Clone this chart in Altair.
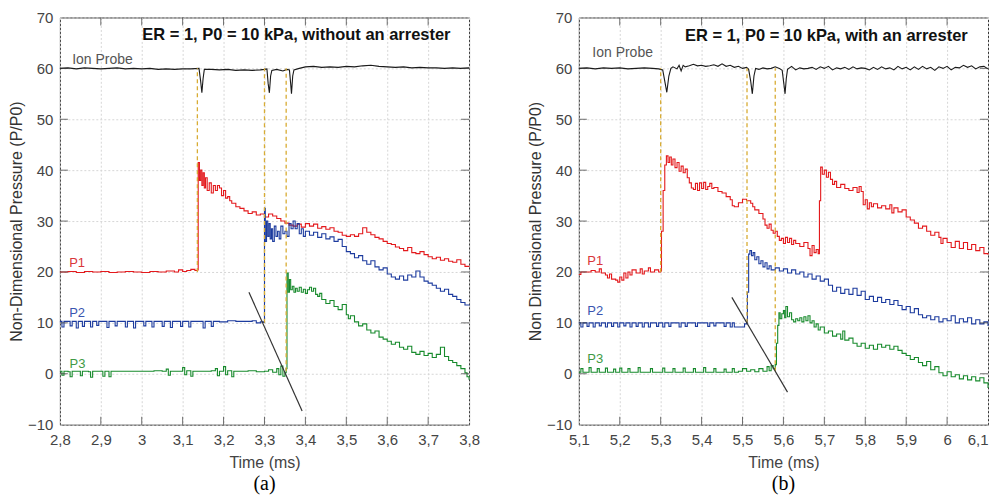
import altair as alt
import pandas as pd

# ---------------- data: panel (a) without arrester ----------------
ion_a = [(2.800,60.0),(2.820,60.1),(2.840,59.9),(2.860,60.1),(2.880,60.0),(2.900,59.9),(2.920,60.0),(2.940,60.1),(2.960,59.9),(2.980,60.0),(3.000,59.9),(3.020,60.0),(3.040,59.8),(3.060,59.9),(3.080,59.8),(3.100,59.9),(3.120,59.9),(3.140,60.0),(3.144,57.5),(3.147,55.2),(3.150,58.0),(3.153,59.8),(3.170,59.8),(3.190,59.7),(3.210,59.8),(3.230,59.6),(3.250,59.7),(3.270,59.6),(3.290,59.7),(3.300,59.8),(3.306,59.9),(3.309,57.0),(3.312,55.2),(3.315,58.5),(3.318,59.6),(3.330,59.8),(3.345,59.5),(3.355,59.8),(3.361,59.7),(3.364,57.0),(3.366,55.0),(3.369,58.5),(3.372,59.7),(3.385,60.0),(3.400,60.3),(3.420,60.4),(3.440,60.2),(3.460,60.3),(3.480,60.2),(3.500,60.4),(3.520,60.3),(3.540,60.5),(3.560,60.6),(3.580,60.4),(3.600,60.3),(3.620,60.2),(3.640,60.3),(3.660,60.1),(3.680,60.2),(3.700,60.1),(3.720,60.1),(3.740,60.0),(3.760,60.1),(3.780,60.0),(3.800,60.1)]

p1_a = [(2.800,20.0),(2.820,20.1),(2.840,19.9),(2.860,20.1),(2.880,20.0),(2.900,20.1),(2.920,19.9),(2.940,20.0),(2.960,20.1),(2.980,20.0),(3.000,19.9),(3.020,20.1),(3.040,20.0),(3.060,20.2),(3.080,20.0),(3.090,20.4),(3.100,20.1),(3.110,20.3),(3.120,20.5),(3.130,20.3),(3.136,20.4),(3.138,41.5),(3.141,38.0),(3.144,40.0),(3.147,37.0),(3.150,39.5),(3.153,36.5),(3.156,38.5),(3.160,36.0),(3.165,37.5),(3.170,35.5),(3.175,37.0),(3.180,36.0),(3.185,37.0),(3.190,36.5),(3.195,35.0),(3.200,36.0),(3.205,34.5),(3.210,34.8),(3.215,34.0),(3.220,33.5),(3.230,32.8),(3.240,32.5),(3.250,32.0),(3.260,31.5),(3.270,31.8),(3.280,31.2),(3.290,31.4),(3.300,30.8),(3.310,31.4),(3.320,31.0),(3.330,30.5),(3.340,30.0),(3.350,29.6),(3.360,29.2),(3.370,29.0),(3.380,29.4),(3.390,28.8),(3.400,29.5),(3.410,29.0),(3.420,29.4),(3.430,28.6),(3.440,28.9),(3.450,28.4),(3.460,28.7),(3.470,28.0),(3.480,27.8),(3.490,27.2),(3.500,27.0),(3.510,27.3),(3.520,27.0),(3.530,27.5),(3.540,28.7),(3.550,27.8),(3.560,27.3),(3.570,26.8),(3.580,26.5),(3.590,26.0),(3.600,25.6),(3.610,25.4),(3.620,24.9),(3.630,24.6),(3.640,24.2),(3.650,24.8),(3.660,23.8),(3.670,23.6),(3.680,24.0),(3.690,23.4),(3.700,23.0),(3.710,22.6),(3.720,22.9),(3.730,22.3),(3.740,22.6),(3.750,22.1),(3.760,21.9),(3.770,22.4),(3.780,21.5),(3.790,21.1),(3.800,21.0)]

p2_a = [(2.800,10.3),(2.805,9.2),(2.810,10.3),(2.820,10.3),(2.825,9.4),(2.830,10.3),(2.840,9.0),(2.845,10.3),(2.855,9.3),(2.860,10.3),(2.870,10.3),(2.875,9.2),(2.880,10.3),(2.890,9.5),(2.895,10.3),(2.910,10.3),(2.915,9.1),(2.920,10.3),(2.935,9.4),(2.940,10.3),(2.955,10.3),(2.960,9.2),(2.965,10.3),(2.980,9.0),(2.985,10.3),(3.000,10.3),(3.005,9.4),(3.010,10.3),(3.025,9.2),(3.030,10.3),(3.045,10.3),(3.050,9.3),(3.055,10.3),(3.070,9.1),(3.075,10.3),(3.090,10.3),(3.095,9.3),(3.100,10.3),(3.115,9.2),(3.120,10.3),(3.140,10.3),(3.150,9.0),(3.155,10.3),(3.170,9.3),(3.175,10.3),(3.190,10.2),(3.210,10.4),(3.230,10.3),(3.250,10.3),(3.270,10.4),(3.280,10.0),(3.290,10.2),(3.298,10.1),(3.300,32.5),(3.302,26.0),(3.305,30.0),(3.308,27.0),(3.311,29.5),(3.314,26.5),(3.317,28.5),(3.320,26.0),(3.324,29.0),(3.328,27.0),(3.332,28.0),(3.336,26.5),(3.340,29.0),(3.345,27.5),(3.350,28.0),(3.355,27.0),(3.360,29.5),(3.365,28.5),(3.370,30.0),(3.375,28.5),(3.380,29.5),(3.385,27.5),(3.390,28.5),(3.395,27.0),(3.400,28.0),(3.410,27.2),(3.420,27.8),(3.430,26.8),(3.440,27.5),(3.450,26.5),(3.460,26.9),(3.470,26.0),(3.480,26.4),(3.490,25.0),(3.500,24.0),(3.510,23.6),(3.520,22.8),(3.530,23.2),(3.540,22.2),(3.550,21.5),(3.560,22.2),(3.570,21.0),(3.580,20.4),(3.590,20.8),(3.600,19.6),(3.610,19.0),(3.620,18.6),(3.630,19.2),(3.640,18.4),(3.650,19.4),(3.660,19.0),(3.670,20.2),(3.680,19.0),(3.690,18.2),(3.700,17.8),(3.710,17.4),(3.720,16.8),(3.730,16.2),(3.740,16.6),(3.750,15.6),(3.760,15.2),(3.770,14.6),(3.780,14.0),(3.790,13.5),(3.800,13.4)]

p3_a = [(2.800,0.5),(2.805,-0.3),(2.810,0.5),(2.820,0.4),(2.825,-0.6),(2.830,0.5),(2.845,0.5),(2.850,-0.4),(2.855,0.5),(2.870,0.4),(2.875,-0.7),(2.880,0.5),(2.900,0.5),(2.905,-0.5),(2.910,0.5),(2.920,-0.6),(2.925,0.5),(2.950,0.5),(2.970,0.5),(2.990,0.5),(3.010,0.5),(3.030,0.6),(3.050,0.5),(3.060,0.9),(3.065,-0.3),(3.070,0.5),(3.090,0.5),(3.100,1.2),(3.105,-0.2),(3.110,0.6),(3.120,-0.5),(3.125,0.5),(3.150,0.5),(3.170,0.6),(3.180,1.0),(3.185,-0.4),(3.190,0.5),(3.200,1.4),(3.205,-0.2),(3.210,0.6),(3.220,-0.6),(3.225,0.5),(3.240,0.5),(3.260,0.6),(3.280,0.4),(3.300,0.5),(3.310,0.8),(3.320,0.3),(3.330,1.0),(3.335,-0.2),(3.340,1.5),(3.345,-0.5),(3.350,0.2),(3.353,1.0),(3.355,19.8),(3.358,16.0),(3.361,18.5),(3.364,16.5),(3.368,17.2),(3.372,16.0),(3.376,16.8),(3.380,16.2),(3.385,17.0),(3.390,16.0),(3.395,16.6),(3.400,15.8),(3.405,16.5),(3.410,17.0),(3.415,16.2),(3.420,16.8),(3.425,15.6),(3.430,15.2),(3.435,15.8),(3.440,14.6),(3.450,13.8),(3.460,14.4),(3.470,13.2),(3.480,12.6),(3.490,13.6),(3.500,11.6),(3.505,10.8),(3.510,11.4),(3.520,10.2),(3.530,9.4),(3.540,9.8),(3.550,8.6),(3.560,8.0),(3.570,8.4),(3.580,7.2),(3.590,6.8),(3.600,6.4),(3.610,5.8),(3.620,6.2),(3.630,5.2),(3.640,4.8),(3.650,5.4),(3.660,4.2),(3.670,3.8),(3.680,4.4),(3.690,3.6),(3.700,4.0),(3.710,3.2),(3.720,3.8),(3.730,5.2),(3.740,3.4),(3.750,2.6),(3.760,2.2),(3.770,1.6),(3.780,1.0),(3.790,0.2),(3.795,-0.6),(3.800,-1.2)]

diag_a = [(3.262, 16.0), (3.392, -7.3)]
dash_a = [(3.136, 20.0, 60.0), (3.300, 10.0, 60.0), (3.353, 0.5, 60.0)]
labels_a = [(2.904, 61.6, "Ion Probe"), (2.842, 21.8, "P1"), (2.842, 11.9, "P2"), (2.843, 1.9, "P3")]
head_a = (3.378, 66.6, "ER = 1, P0 = 10 kPa, without an arrester")

# ---------------- data: panel (b) with arrester ----------------
ion_b = [(5.100,60.0),(5.120,60.1),(5.140,59.9),(5.160,60.1),(5.180,60.0),(5.200,60.1),(5.220,59.9),(5.240,60.0),(5.260,60.1),(5.280,60.0),(5.295,59.9),(5.305,59.7),(5.310,57.5),(5.315,55.3),(5.320,58.5),(5.325,60.0),(5.330,60.3),(5.340,59.9),(5.345,60.6),(5.350,59.5),(5.355,60.6),(5.360,60.3),(5.370,60.5),(5.380,60.8),(5.390,60.5),(5.400,60.6),(5.410,60.4),(5.420,60.5),(5.430,60.7),(5.440,60.4),(5.450,60.9),(5.460,60.4),(5.470,60.6),(5.480,60.2),(5.490,60.4),(5.500,60.0),(5.510,60.2),(5.515,59.8),(5.520,57.5),(5.524,55.0),(5.528,58.5),(5.532,60.0),(5.540,59.8),(5.550,60.1),(5.560,59.9),(5.570,60.0),(5.580,60.3),(5.590,60.0),(5.597,59.6),(5.601,57.0),(5.604,55.0),(5.607,58.0),(5.610,59.8),(5.620,60.4),(5.630,59.7),(5.640,60.1),(5.650,59.9),(5.660,60.0),(5.670,60.2),(5.680,59.8),(5.690,60.3),(5.700,60.0),(5.710,60.4),(5.720,59.7),(5.730,60.1),(5.740,59.9),(5.750,60.2),(5.760,59.8),(5.770,60.3),(5.780,59.9),(5.790,60.1),(5.800,60.0),(5.810,59.7),(5.820,60.2),(5.830,59.8),(5.840,60.3),(5.850,59.9),(5.860,60.1),(5.870,59.7),(5.880,60.4),(5.890,59.9),(5.900,60.2),(5.910,59.7),(5.920,60.3),(5.930,59.8),(5.940,60.4),(5.950,59.9),(5.960,60.2),(5.970,59.6),(5.980,60.3),(5.990,60.0),(6.000,60.4),(6.010,59.7),(6.020,60.2),(6.030,60.1),(6.040,60.6),(6.050,60.2),(6.060,60.5),(6.070,59.9),(6.080,60.3),(6.090,60.4),(6.100,59.9)]

p1_b = [(5.100,19.5),(5.105,20.0),(5.120,20.0),(5.130,20.3),(5.140,20.0),(5.150,20.6),(5.155,19.8),(5.165,19.4),(5.170,18.8),(5.175,19.6),(5.180,18.6),(5.190,18.4),(5.195,18.0),(5.200,19.0),(5.205,18.4),(5.210,19.8),(5.215,18.8),(5.220,20.0),(5.225,19.4),(5.230,20.4),(5.240,19.8),(5.250,20.6),(5.255,19.6),(5.260,20.2),(5.270,20.8),(5.275,20.0),(5.285,20.4),(5.295,20.0),(5.300,20.2),(5.302,28.0),(5.306,36.0),(5.310,41.0),(5.314,42.8),(5.318,41.5),(5.322,42.6),(5.326,41.0),(5.330,42.2),(5.335,40.5),(5.340,41.5),(5.345,39.8),(5.350,40.8),(5.355,39.5),(5.360,40.2),(5.365,38.5),(5.370,37.5),(5.375,36.5),(5.380,36.2),(5.385,37.4),(5.390,36.0),(5.395,37.5),(5.400,36.4),(5.405,37.6),(5.410,36.2),(5.415,36.8),(5.420,37.4),(5.425,36.4),(5.430,36.6),(5.440,35.8),(5.450,35.5),(5.460,34.8),(5.470,34.2),(5.475,33.0),(5.480,32.8),(5.490,33.6),(5.500,34.3),(5.510,34.0),(5.520,33.5),(5.525,32.8),(5.530,32.2),(5.540,31.5),(5.550,30.4),(5.555,29.2),(5.560,28.6),(5.565,29.4),(5.570,28.2),(5.575,27.6),(5.580,28.0),(5.585,27.0),(5.590,26.2),(5.595,26.6),(5.600,25.6),(5.605,26.8),(5.610,25.8),(5.615,26.6),(5.620,25.4),(5.625,26.2),(5.630,25.6),(5.640,25.0),(5.650,25.8),(5.660,24.6),(5.665,23.2),(5.670,25.2),(5.675,23.8),(5.680,24.4),(5.685,23.6),(5.688,34.0),(5.691,40.6),(5.695,39.2),(5.700,40.0),(5.705,38.6),(5.710,39.6),(5.715,38.2),(5.720,37.2),(5.725,37.8),(5.730,36.6),(5.740,37.2),(5.750,36.4),(5.760,36.0),(5.770,36.6),(5.780,35.6),(5.785,36.8),(5.790,35.8),(5.795,33.2),(5.800,34.2),(5.805,32.4),(5.810,33.6),(5.815,32.8),(5.820,33.4),(5.830,32.6),(5.840,33.0),(5.850,32.4),(5.860,33.2),(5.865,31.6),(5.870,32.6),(5.880,31.8),(5.890,32.2),(5.900,30.8),(5.910,30.2),(5.920,29.6),(5.930,28.6),(5.940,29.0),(5.950,28.0),(5.960,27.2),(5.970,27.8),(5.980,26.8),(5.985,25.6),(5.990,26.6),(6.000,25.8),(6.010,24.8),(6.020,26.0),(6.030,24.6),(6.040,25.8),(6.050,24.4),(6.060,25.4),(6.070,24.2),(6.080,24.8),(6.090,23.6),(6.100,23.4)]

p2_b = [(5.100,10.0),(5.105,9.2),(5.110,10.0),(5.120,9.3),(5.125,10.0),(5.135,9.2),(5.140,10.0),(5.150,9.4),(5.155,10.0),(5.165,9.2),(5.170,10.0),(5.180,9.3),(5.185,10.0),(5.195,9.2),(5.200,10.0),(5.210,9.4),(5.215,10.0),(5.225,9.2),(5.230,10.0),(5.240,9.3),(5.245,10.0),(5.255,9.2),(5.260,10.0),(5.270,9.2),(5.275,10.0),(5.290,9.3),(5.295,10.0),(5.305,9.2),(5.310,10.0),(5.320,9.3),(5.325,10.0),(5.340,10.0),(5.345,9.2),(5.350,10.0),(5.360,9.3),(5.365,10.0),(5.380,10.0),(5.385,9.3),(5.390,10.0),(5.410,10.0),(5.415,9.3),(5.420,10.0),(5.430,9.4),(5.435,10.0),(5.450,10.0),(5.455,9.3),(5.460,10.0),(5.470,9.2),(5.475,10.0),(5.480,9.2),(5.500,9.2),(5.505,9.8),(5.510,10.0),(5.512,16.0),(5.515,23.5),(5.518,24.2),(5.522,23.2),(5.526,23.8),(5.530,22.4),(5.535,23.0),(5.540,21.6),(5.545,22.2),(5.550,21.0),(5.555,21.8),(5.560,20.6),(5.565,21.2),(5.570,20.4),(5.580,20.8),(5.590,20.2),(5.600,20.6),(5.610,19.8),(5.620,20.4),(5.630,19.6),(5.640,20.0),(5.650,19.0),(5.660,19.6),(5.670,18.6),(5.680,19.2),(5.690,18.2),(5.700,18.6),(5.710,17.4),(5.720,16.2),(5.730,17.0),(5.740,15.8),(5.750,16.6),(5.760,15.6),(5.770,16.8),(5.780,15.4),(5.790,16.2),(5.800,14.6),(5.810,15.2),(5.820,14.2),(5.830,15.0),(5.840,14.0),(5.850,14.6),(5.860,13.6),(5.870,14.4),(5.880,13.4),(5.890,12.6),(5.900,13.2),(5.910,12.0),(5.920,12.8),(5.930,11.6),(5.940,11.0),(5.950,11.4),(5.960,10.6),(5.970,11.2),(5.980,10.2),(5.990,10.8),(6.000,10.4),(6.010,11.4),(6.020,10.0),(6.030,10.8),(6.040,10.2),(6.050,11.0),(6.060,9.8),(6.070,10.6),(6.080,9.8),(6.090,10.2),(6.100,9.4)]

p3_b = [(5.100,0.3),(5.105,1.0),(5.110,0.3),(5.120,0.3),(5.125,1.2),(5.130,0.3),(5.140,0.3),(5.145,1.0),(5.150,0.3),(5.160,0.3),(5.165,1.1),(5.170,0.3),(5.180,0.3),(5.185,0.9),(5.190,0.3),(5.200,1.1),(5.205,0.3),(5.215,0.3),(5.220,1.0),(5.225,0.3),(5.240,0.3),(5.245,1.2),(5.250,0.3),(5.270,0.3),(5.275,1.0),(5.280,0.3),(5.300,0.3),(5.305,1.1),(5.310,0.3),(5.325,0.3),(5.330,1.0),(5.335,0.3),(5.350,0.3),(5.355,1.1),(5.360,0.3),(5.375,0.3),(5.380,1.0),(5.385,0.3),(5.400,0.3),(5.405,1.2),(5.410,0.3),(5.425,0.3),(5.430,1.0),(5.435,0.3),(5.450,0.3),(5.455,0.9),(5.460,0.3),(5.470,0.3),(5.475,1.0),(5.480,0.3),(5.490,0.5),(5.500,1.0),(5.510,0.5),(5.520,0.8),(5.530,0.4),(5.540,1.0),(5.550,0.5),(5.560,1.4),(5.565,0.6),(5.570,1.6),(5.575,1.0),(5.580,1.8),(5.583,6.0),(5.586,9.5),(5.589,12.0),(5.592,10.8),(5.596,11.8),(5.600,12.4),(5.603,11.0),(5.606,13.2),(5.610,11.2),(5.615,12.0),(5.620,10.6),(5.625,10.2),(5.630,10.8),(5.635,10.4),(5.640,11.0),(5.645,10.2),(5.650,11.2),(5.655,10.4),(5.660,11.4),(5.665,10.0),(5.670,10.4),(5.675,9.2),(5.680,9.8),(5.685,8.6),(5.690,9.2),(5.700,8.0),(5.710,8.4),(5.720,7.4),(5.730,7.8),(5.740,6.8),(5.745,8.4),(5.750,6.6),(5.760,7.0),(5.770,6.0),(5.780,5.4),(5.790,6.0),(5.800,5.0),(5.810,5.6),(5.820,4.8),(5.830,5.8),(5.840,5.2),(5.850,5.6),(5.860,4.8),(5.870,5.4),(5.880,4.6),(5.890,4.0),(5.900,3.6),(5.910,2.8),(5.920,3.2),(5.930,2.2),(5.940,1.6),(5.950,2.4),(5.960,0.8),(5.970,1.4),(5.980,0.2),(5.990,-0.4),(6.000,0.4),(6.010,-0.6),(6.020,-0.2),(6.030,-1.0),(6.040,-0.4),(6.050,-1.2),(6.060,-0.6),(6.070,-1.4),(6.080,-0.8),(6.090,-1.8),(6.100,-2.8)]

diag_b = [(5.474, 15.0), (5.610, -3.6)]
dash_b = [(5.300, 20.0, 60.0), (5.511, 10.0, 60.0), (5.580, 0.5, 60.0)]
labels_b = [(5.207, 63.0, "Ion Probe"), (5.140, 22.1, "P1"), (5.140, 12.3, "P2"), (5.140, 2.9, "P3")]
head_b = (5.705, 66.3, "ER = 1, P0 = 10 kPa, with an arrester")

xticks_a = [2.8, 2.9, 3.0, 3.1, 3.2, 3.3, 3.4, 3.5, 3.6, 3.7, 3.8]
xticks_b = [5.1, 5.2, 5.3, 5.4, 5.5, 5.6, 5.7, 5.8, 5.9, 6.0, 6.1]
yticks = [-10, 0, 10, 20, 30, 40, 50, 60, 70]

series_names = ["Ion", "P1", "P2", "P3"]
series_colors = ["#1a1a1a", "#e3191c", "#1c3b9e", "#178a2c"]
label_colors = ["#555555", "#d9363a", "#3a55b0", "#3f9a45"]
label_sizes = [14, 13, 13, 13]

W, H = 410, 408
FONT = "Liberation Sans"


def panel(series, diag, dash, labels, head, xticks, ytitle, sub, last_right):
    rows = []
    for name, pts in zip(series_names, series):
        for i, (t, v) in enumerate(pts):
            rows.append({"t": t, "v": v, "s": name, "o": i})
    df = pd.DataFrame(rows)

    xs = alt.Scale(domain=[xticks[0], xticks[-1]], nice=False, zero=False)
    ys = alt.Scale(domain=[yticks[0], yticks[-1]], nice=False, zero=False)
    label_align = "center"
    if last_right:
        label_align = {"condition": {"test": f"datum.value >= {xticks[-1] - 0.01}", "value": "right"},
                       "value": "center"}
    xaxis = alt.Axis(values=xticks, title="Time (ms)", grid=True, gridColor="#d6d6d6",
                     gridDash=[2, 2], domain=False, ticks=False, labelPadding=8,
                     labelExpr="replace(format(datum.value, '.2~f'), '.', ',')",
                     labelFont=FONT, labelFontSize=15, labelColor="#444",
                     labelAlign=label_align,
                     titleFont=FONT, titleFontSize=16, titleFontWeight="normal",
                     titleColor="#444", titlePadding=7)
    yaxis = alt.Axis(values=yticks, title=ytitle, grid=True, gridColor="#d6d6d6",
                     gridDash=[2, 2], domain=False, ticks=False, labelPadding=7,
                     labelFont=FONT, labelFontSize=15, labelColor="#444",
                     titleFont=FONT, titleFontSize=16, titleFontWeight="normal",
                     titleColor="#333", titlePadding=3)
    X = alt.X("t:Q", scale=xs, axis=xaxis)
    Y = alt.Y("v:Q", scale=ys, axis=yaxis)
    C = alt.Color("s:N", scale=alt.Scale(domain=series_names, range=series_colors), legend=None)

    ion_line = alt.Chart(df[df.s == "Ion"]).mark_line(strokeWidth=1.1).encode(
        x=X, y=Y, color=C, detail="s:N", order="o:Q")
    p_lines = alt.Chart(df[df.s != "Ion"]).mark_line(strokeWidth=1.1, interpolate="step-after").encode(
        x=X, y=Y, color=C, detail="s:N", order="o:Q")

    dd = pd.DataFrame([{"t": t, "v": a, "v2": b} for t, a, b in dash])
    dashed = alt.Chart(dd).mark_rule(color="#d8ac34", strokeDash=[4, 3], strokeWidth=1.3).encode(
        x=X, y=Y, y2="v2:Q")

    dg = pd.DataFrame([{"t": t, "v": v} for t, v in diag])
    diag_line = alt.Chart(dg).mark_line(color="#333", strokeWidth=1.2).encode(x=X, y=Y)

    ld = pd.DataFrame([{"t": t, "v": v, "txt": s, "c": c, "fs": f}
                       for (t, v, s), c, f in zip(labels, label_colors, label_sizes)])
    texts = alt.Chart(ld).mark_text(font=FONT, align="center", baseline="middle").encode(
        x=X, y=Y, text="txt:N", color=alt.Color("c:N", scale=None),
        size=alt.Size("fs:Q", scale=None))

    hd = pd.DataFrame([{"t": head[0], "v": head[1], "txt": head[2]}])
    header = alt.Chart(hd).mark_text(font=FONT, fontSize=16.5, fontWeight="bold", color="#111",
                                     align="center", baseline="middle").encode(x=X, y=Y, text="txt:N")

    ytk = pd.DataFrame({"v": yticks[1:-1]})
    xtk = pd.DataFrame({"t": xticks[1:-1]})
    tk_style = dict(color="#333", thickness=1, size=8)
    yl = alt.Chart(ytk).mark_tick(orient="horizontal", **tk_style).encode(y=Y, x=alt.value(4))
    yr = alt.Chart(ytk).mark_tick(orient="horizontal", **tk_style).encode(y=Y, x=alt.value(W - 4))
    xb = alt.Chart(xtk).mark_tick(orient="vertical", **tk_style).encode(x=X, y=alt.value(H - 4))
    xt = alt.Chart(xtk).mark_tick(orient="vertical", **tk_style).encode(x=X, y=alt.value(4))

    return alt.layer(ion_line, p_lines, dashed, diag_line, texts, header, yl, yr, xb, xt).properties(
        width=W, height=H,
        title=alt.TitleParams(sub, orient="bottom", font="Liberation Serif", fontSize=20,
                              fontWeight="normal", color="#000", offset=3, frame="group"))


left = panel([ion_a, p1_a, p2_a, p3_a], diag_a, dash_a, labels_a, head_a, xticks_a,
             "Non-Dimensional Pressure (P/P0)", "(a)", False)
right = panel([ion_b, p1_b, p2_b, p3_b], diag_b, dash_b, labels_b, head_b, xticks_b,
              "Non Dimensional Pressure (P/P0)", "(b)", True)

chart = alt.hconcat(left, right, spacing=47).properties(
    padding={"left": 0, "top": 1, "right": 0, "bottom": 0}, background="white"
).configure_view(stroke="#333", strokeWidth=1)

chart.save("out.html", embed_options={"renderer": "svg", "actions": False})
